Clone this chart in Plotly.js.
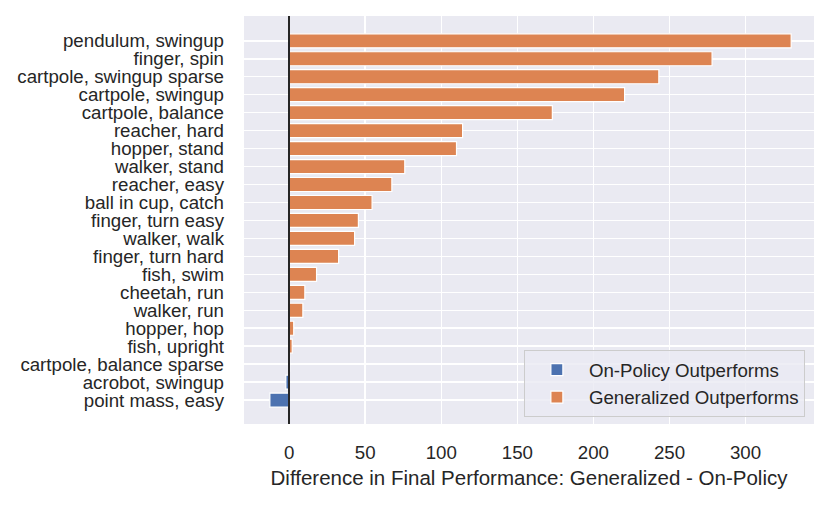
<!DOCTYPE html>
<html>
<head>
<meta charset="utf-8">
<script src="https://cdn.plot.ly/plotly-3.0.1.min.js"></script>
<style>html,body{margin:0;padding:0;background:#fff;}#chart{width:831px;height:505px;}</style>
</head>
<body>
<div id="chart"></div>
<script>
var tasks = [
  "pendulum, swingup", "finger, spin", "cartpole, swingup sparse", "cartpole, swingup",
  "cartpole, balance", "reacher, hard", "hopper, stand", "walker, stand", "reacher, easy",
  "ball in cup, catch", "finger, turn easy", "walker, walk", "finger, turn hard",
  "fish, swim", "cheetah, run", "walker, run", "hopper, hop", "fish, upright",
  "cartpole, balance sparse", "acrobot, swingup", "point mass, easy"
];
var differences = [
  330, 278, 243, 220.5, 173, 114, 110, 76, 67.5, 54.5, 45.5, 43, 32.5,
  18, 10.3, 9, 3, 2, 0.3, -2.2, -12.7
];
var xTicks = [0, 50, 100, 150, 200, 250, 300];

var onPolicy = differences.map(function (v) { return v < 0 ? v : null; });
var generalized = differences.map(function (v) { return v >= 0 ? v : null; });

var font = "Liberation Sans, Arial, Helvetica, sans-serif";
var textColor = "#262626";

var traces = [
  {
    type: "bar", orientation: "h", name: "On-Policy Outperforms",
    y: tasks, x: onPolicy, width: 0.78,
    marker: {color: "#4C72B0", line: {color: "#ffffff", width: 1.2}},
    hoverinfo: "x+y"
  },
  {
    type: "bar", orientation: "h", name: "Generalized Outperforms",
    y: tasks, x: generalized, width: 0.78,
    marker: {color: "#DD8452", line: {color: "#ffffff", width: 1.2}},
    hoverinfo: "x+y"
  }
];

var layout = {
  width: 831, height: 505,
  margin: {l: 244, r: 17, t: 16, b: 81, pad: 0},
  paper_bgcolor: "#ffffff",
  plot_bgcolor: "#EAEAF2",
  barmode: "overlay",
  font: {family: font, size: 18.7, color: textColor},
  showlegend: true,
  legend: {
    x: 0.984, y: 0.017, xanchor: "right", yanchor: "bottom",
    bgcolor: "rgba(234,234,242,0.8)", bordercolor: "#cccccc", borderwidth: 1,
    font: {family: font, size: 18.7, color: textColor},
    traceorder: "normal", itemwidth: 54
  },
  xaxis: {
    range: [-29.7, 345],
    tickmode: "array", tickvals: xTicks, ticktext: xTicks.map(String),
    showgrid: true, gridcolor: "#ffffff", gridwidth: 1.5,
    zeroline: true, zerolinecolor: "#262626", zerolinewidth: 2.2,
    zerolinelayer: "above traces",
    showline: false, ticks: "", ticklen: 0,
    ticklabelstandoff: 15,
    tickfont: {family: font, size: 18.7, color: textColor},
    title: {text: "Difference in Final Performance: Generalized - On-Policy",
            font: {family: font, size: 20.5, color: textColor}, standoff: 8}
  },
  yaxis: {
    type: "category",
    tickmode: "array", tickvals: tasks,
    range: [21.33, -1.38],
    showgrid: true, gridcolor: "#ffffff", gridwidth: 1.5,
    zeroline: false, showline: false, ticks: "", ticklen: 0,
    ticklabelstandoff: 19,
    tickfont: {family: font, size: 18.7, color: textColor},
    automargin: false
  }
};

Plotly.newPlot("chart", traces, layout, {displayModeBar: false, staticPlot: true});
</script>
</body>
</html>
